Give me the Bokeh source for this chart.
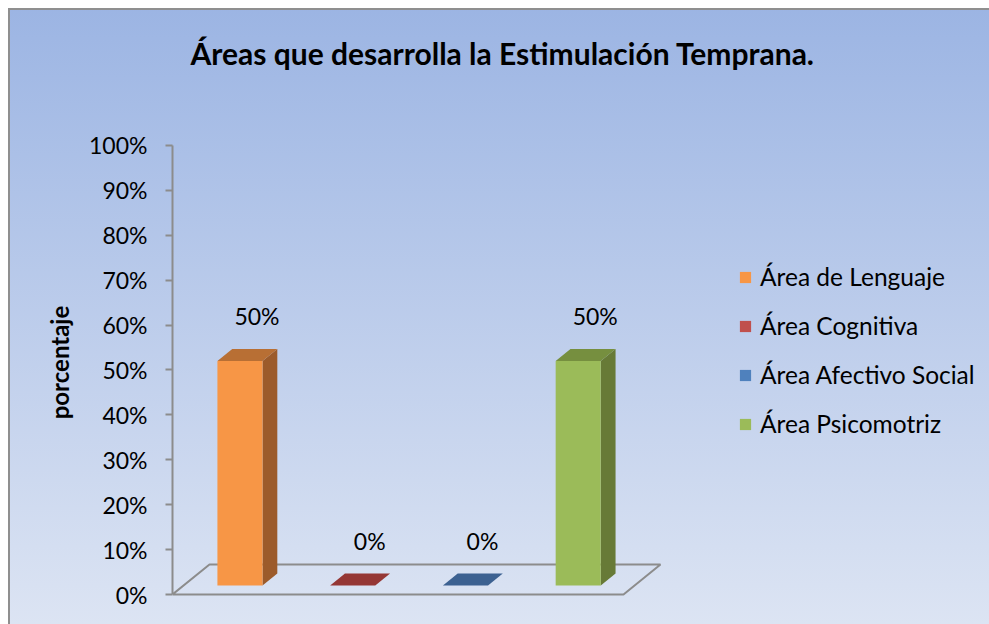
from bokeh.plotting import figure
from bokeh.models import Range1d, FixedTicker, Legend, LegendItem, ColumnDataSource
from bokeh.core.properties import value
from bokeh.embed import file_html
from bokeh.resources import INLINE
import numpy as np

# ---- data ----
categories = ["Área de Lenguaje", "Área Cognitiva", "Área Afectivo Social", "Área Psicomotriz"]
values = [50, 0, 0, 50]
value_labels = ["50%", "0%", "0%", "50%"]
tick_values = [0, 10, 20, 30, 40, 50, 60, 70, 80, 90, 100]
tick_labels = ["0%", "10%", "20%", "30%", "40%", "50%", "60%", "70%", "80%", "90%", "100%"]
title_text = "Áreas que desarrolla la Estimulación Temprana."
y_label = "porcentaje"

# ---- styles ----
front_colors = ["#F79646", "#C0504D", "#4F81BD", "#9BBB59"]
side_colors = ["#9C5B2B", "#8B3633", "#335983", "#677A37"]
top_colors = ["#B86F34", "#953735", "#3C6191", "#768F3F"]
FONT = "Lato"

# oblique projection of the depth axis (data units)
FX, FY = 0.328, 6.68
T0, T1 = 0.3, 0.7
HALF = 0.2

n = len(categories)
xc = np.arange(n, dtype=float)
v = np.array(values, dtype=float)

ox0, oy0 = T0 * FX, T0 * FY
ox1, oy1 = T1 * FX, T1 * FY

front_xs, front_ys, side_xs, side_ys, top_xs, top_ys = [], [], [], [], [], []
for c, h in zip(xc, v):
    xl, xr = c - HALF, c + HALF
    front_xs.append([xl + ox0, xr + ox0, xr + ox0, xl + ox0])
    front_ys.append([oy0, oy0, h + oy0, h + oy0])
    side_xs.append([xr + ox0, xr + ox1, xr + ox1, xr + ox0])
    side_ys.append([oy0, oy1, h + oy1, h + oy0])
    top_xs.append([xl + ox0, xr + ox0, xr + ox1, xl + ox1])
    top_ys.append([h + oy0, h + oy0, h + oy1, h + oy1])

p = figure(width=989, height=624, output_backend="svg", toolbar_location=None,
           x_range=Range1d(-0.5, 6.693), y_range=Range1d(-6.68, 110.02),
           x_axis_type=None, min_border_left=172, min_border_top=100,
           min_border_right=6, min_border_bottom=0)
p.background_fill_color = None
p.border_fill_color = None
p.outline_line_color = None
p.grid.visible = False
p.styles = {"background-image": "linear-gradient(to bottom, #9BB4E3, #DCE4F3)",
            "box-shadow": "inset 8px 8px 0 0 #ffffff, inset 10px 10px 0 0 #8f8f8f"}

p.title.text = title_text
p.title.text_font = FONT
p.title.text_font_size = "30px"
p.title.text_font_style = "bold"
p.title.text_color = "black"
p.title.align = "left"
p.title.offset = 18
p.title.standoff = 60

# floor
floor_x = [-0.5, n - 0.5, n - 0.5 + FX, -0.5 + FX, -0.5]
floor_y = [0, 0, FY, FY, 0]
p.line(floor_x, floor_y, line_color="#8C8C8C", line_width=2)

src = ColumnDataSource(dict(fx=front_xs, fy=front_ys, sx=side_xs, sy=side_ys,
                            tx=top_xs, ty=top_ys, fc=front_colors, sc=side_colors,
                            tc=top_colors, name=categories))
p.patches("sx", "sy", source=src, fill_color="sc", line_color=None)
p.patches("tx", "ty", source=src, fill_color="tc", line_color=None)
fr = p.patches("fx", "fy", source=src, fill_color="fc", line_color=None)

# data labels
p.text(x=list(xc + ox0), y=list(v + oy0), text=value_labels, x_offset=17, y_offset=-45,
       text_align="center", text_baseline="middle", text_font=value(FONT),
       text_font_size="23px", text_color="black")

# y axis
ax = p.yaxis[0]
ax.bounds = (0, 100)
ax.ticker = FixedTicker(ticks=tick_values)
ax.major_label_overrides = {t: l for t, l in zip(tick_values, tick_labels)}
ax.minor_tick_line_color = None
ax.major_tick_in = 0
ax.major_tick_out = 7
ax.major_tick_line_color = "#8C8C8C"
ax.major_tick_line_width = 2
ax.axis_line_color = "#8C8C8C"
ax.axis_line_width = 2
ax.major_label_text_font = FONT
ax.major_label_text_font_size = "23px"
ax.major_label_text_color = "black"
ax.major_label_standoff = 18
ax.axis_label = y_label
ax.axis_label_text_font = FONT
ax.axis_label_text_font_size = "24px"
ax.axis_label_text_font_style = "bold"
ax.axis_label_text_color = "black"
ax.axis_label_standoff = 12

legend = Legend(items=[LegendItem(label=categories[i], renderers=[fr], index=i) for i in range(n)],
                location=(566, 186), orientation="vertical")
legend.background_fill_alpha = 0
legend.border_line_color = None
legend.padding = 0
legend.margin = 0
legend.glyph_width = 14
legend.glyph_height = 14
legend.label_height = 28
legend.spacing = 20
legend.label_standoff = 8
legend.label_text_font = FONT
legend.label_text_font_size = "24.5px"
legend.label_text_color = "black"
p.add_layout(legend, "center")

open("out.html", "w").write(file_html(p, INLINE))
